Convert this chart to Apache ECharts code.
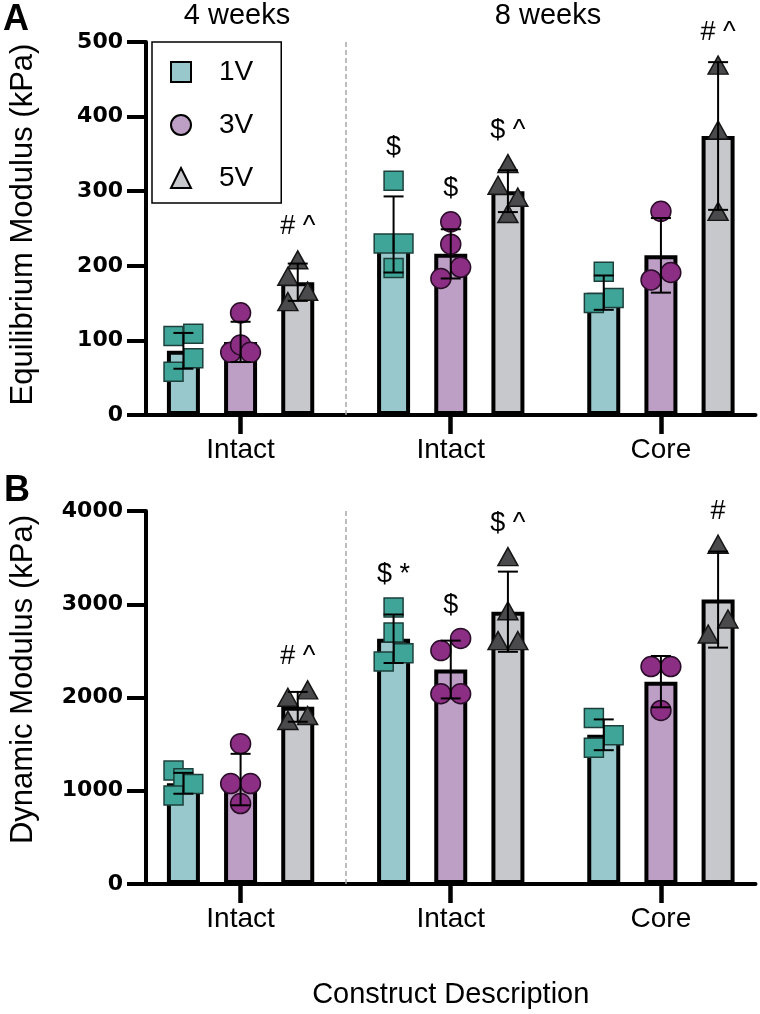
<!DOCTYPE html>
<html><head><meta charset="utf-8">
<script src="https://cdn.jsdelivr.net/npm/echarts@6/dist/echarts.min.js"></script>
<style>html,body{margin:0;padding:0;background:#fff}#c{width:760px;height:1014px}</style>
</head><body><div id="c"></div>
<script>
// ---------- data ----------
const categories = ['Intact', 'Intact', 'Core'];
const groupNames = ['1V', '3V', '5V'];
const weekLabels = ['4 weeks', '8 weeks'];
const panelLetters = ['A', 'B'];

// Panel A: Equilibrium Modulus (kPa), per category [4w Intact, 8w Intact, 8w Core]
const eqMean1V = [86, 242, 164];
const eqMean3V = [98, 216, 214];
const eqMean5V = [178, 300, 374];
const eqSD1V = [24, 51, 23];
const eqSD3V = [27, 33, 50];
const eqSD5V = [25, 28, 99];
const eqPts1V = [[106, 109, 76, 58], [314, 230, 230, 197], [192, 150, 157]];
const eqPts3V = [[137, 84, 94, 84], [259, 229, 198, 183], [273, 181, 191]];
const eqPts5V = [[208, 186, 166, 152], [337, 308, 292, 270], [469, 382, 273]];
// side of the bar each point is spread to (-1 left, 0 centre, 1 right)
const eqSide1V = [[-1, 1, 1, -1], [0, -1, 1, 0], [0, -1, 1]];
const eqSide3V = [[0, -1, 0, 1], [0, 0, 1, -1], [0, -1, 1]];
const eqSide5V = [[0, -1, 1, -1], [0, -1, 1, 0], [0, 0, 0]];
const eqMarks = [['', '', '# ^'], ['$', '$', '$ ^'], ['', '', '# ^']];

// Panel B: Dynamic Modulus (kPa)
const dynMean1V = [1080, 2630, 1600];
const dynMean3V = [1120, 2300, 2170];
const dynMean5V = [1900, 2920, 3050];
const dynSD1V = [112, 260, 165];
const dynSD3V = [276, 310, 275];
const dynSD5V = [160, 430, 515];
const dynPts1V = [[1216, 1134, 1073, 949], [2966, 2698, 2474, 2385], [1779, 1594, 1462]];
const dynPts3V = [[1505, 1077, 1077, 863], [2634, 2503, 2040, 2040], [2332, 2332, 1861]];
const dynPts5V = [[2003, 2082, 1754, 1807], [3511, 2930, 2610, 2610], [3644, 2681, 2842]];
const dynSide1V = [[-1, 0, 1, -1], [0, 0, 1, -1], [-1, 1, -1]];
const dynSide3V = [[0, -1, 1, 0], [1, -1, -1, 1], [-1, 1, 0]];
const dynSide5V = [[-1, 1, -1, 1], [0, 0, -1, 1], [0, -1, 1]];
const dynMarks = [['', '', '# ^'], ['$ *', '$', '$ ^'], ['', '', '#']];

// ---------- styles / layout ----------
const FONT = '"Liberation Sans", Arial, sans-serif';
const GROUP_OFF = [-0.272, 0, 0.272];
const SPREAD = 0.047;
const groupStyle = [
  { symbol: 'rect', size: 19, fill: '#3fa598', border: '#1c3f3b', bar: '#98c8cc' },
  { symbol: 'circle', size: 20, fill: '#8b2e84', border: '#2a0d28', bar: '#bd9ec4' },
  { symbol: 'triangle', size: [20, 18], fill: '#4a4a4c', border: '#161616', bar: '#c7c8cc' }
];

function errorRender(params, api) {
  const x = api.value(0), lo = api.value(1), hi = api.value(2);
  const a = api.coord([x, lo]), b = api.coord([x, hi]);
  const st = { stroke: '#000', lineWidth: 2 };
  const h = 10;
  return { type: 'group', children: [
    { type: 'line', shape: { x1: a[0], y1: a[1], x2: b[0], y2: b[1] }, style: st },
    { type: 'line', shape: { x1: b[0] - h, y1: b[1], x2: b[0] + h, y2: b[1] }, style: st },
    { type: 'line', shape: { x1: a[0] - h, y1: a[1], x2: a[0] + h, y2: a[1] }, style: st }
  ]};
}

function buildPanel(gi, means, sds, pts, sides, marks, suffix) {
  const out = [];
  groupNames.forEach((gName, g) => {
    const s = groupStyle[g];
    const barSeries = {
      type: 'bar', name: gName + suffix, xAxisIndex: gi, yAxisIndex: gi,
      barWidth: 33, barGap: '-100%', z: 2, silent: true,
      itemStyle: { color: s.bar, borderColor: '#000', borderWidth: 4 },
      data: categories.map((c, i) => [i + 1 + GROUP_OFF[g], means[g][i]])
    };
    if (g === 0) {
      barSeries.markLine = {
        silent: true, symbol: 'none', label: { show: false },
        lineStyle: { color: '#a8a8a8', type: [5, 3], width: 1.5 },
        data: [{ xAxis: 1.5 }]
      };
    }
    out.push(barSeries);
    const sc = [];
    pts[g].forEach((arr, i) => arr.forEach((v, k) => {
      sc.push([i + 1 + GROUP_OFF[g] + sides[g][i][k] * SPREAD, v]);
    }));
    out.push({
      type: 'scatter', name: gName + suffix, xAxisIndex: gi, yAxisIndex: gi, z: 3,
      symbol: s.symbol, symbolSize: s.size,
      itemStyle: { color: s.fill, borderColor: s.border, borderWidth: 1.5, opacity: 1 },
      data: sc
    });
    out.push({
      type: 'custom', xAxisIndex: gi, yAxisIndex: gi, z: 4, silent: true,
      renderItem: errorRender,
      data: categories.map((c, i) => [i + 1 + GROUP_OFF[g], means[g][i] - sds[g][i], means[g][i] + sds[g][i]])
    });
    const ann = [];
    categories.forEach((c, i) => {
      const m = marks[i][g];
      if (m) ann.push({ value: [i + 1 + GROUP_OFF[g], Math.max.apply(null, pts[g][i])], name: m });
    });
    if (ann.length) out.push({
      type: 'scatter', xAxisIndex: gi, yAxisIndex: gi, z: 5, silent: true,
      symbolSize: 1, itemStyle: { color: '#fff', opacity: 0 },
      label: { show: true, position: 'top', distance: 19, formatter: p => p.name,
        fontFamily: FONT, fontSize: 27, color: '#000', opacity: 1 },
      data: ann
    });
  });
  return out;
}

const series = [].concat(
  buildPanel(0, [eqMean1V, eqMean3V, eqMean5V], [eqSD1V, eqSD3V, eqSD5V],
    [eqPts1V, eqPts3V, eqPts5V], [eqSide1V, eqSide3V, eqSide5V], eqMarks, ''),
  buildPanel(1, [dynMean1V, dynMean3V, dynMean5V], [dynSD1V, dynSD3V, dynSD5V],
    [dynPts1V, dynPts3V, dynPts5V], [dynSide1V, dynSide3V, dynSide5V], dynMarks, ' B')
);

function xAxisCfg(gi, name) {
  return {
    type: 'value', gridIndex: gi, min: 0.55, max: 3.45,
    name: name || '', nameLocation: 'middle', nameGap: 96,
    nameTextStyle: { fontFamily: FONT, fontSize: 29, color: '#000' },
    axisLine: { onZero: false, lineStyle: { color: '#000', width: 4 } },
    axisTick: { customValues: [1, 2, 3], length: 19, lineStyle: { color: '#000', width: 4.5 } },
    axisLabel: { customValues: [1, 2, 3], margin: 21, fontFamily: FONT, fontSize: 28, color: '#000',
      formatter: v => categories[Math.round(v) - 1] || '' },
    splitLine: { show: false }
  };
}
function yAxisCfg(gi, max, interval, name, shift) {
  return {
    type: 'value', gridIndex: gi, min: 0, max: max, interval: interval,
    name: name, nameLocation: 'middle', nameGap: 107,
    nameTextStyle: { fontFamily: FONT, fontSize: 31, color: '#000', padding: [0, 0, 0, shift] },
    axisLine: { show: true, onZero: false, lineStyle: { color: '#000', width: 4 } },
    axisTick: { show: true, length: 19, lineStyle: { color: '#000', width: 4 } },
    axisLabel: { margin: 23, fontFamily: '"DejaVu Sans", sans-serif', fontWeight: 'bold', fontSize: 22, color: '#000',
      formatter: v => String(v) },
    splitLine: { show: false }
  };
}

const option = {
  animation: false,
  backgroundColor: '#fff',
  grid: [
    { left: 142, right: 4.5, top: 42, height: 373 },
    { left: 142, right: 4.5, top: 511, height: 373 }
  ],
  xAxis: [xAxisCfg(0), xAxisCfg(1, 'Construct Description')],
  yAxis: [
    yAxisCfg(0, 500, 100, 'Equilibrium Modulus (kPa)', 8),
    yAxisCfg(1, 4000, 1000, 'Dynamic Modulus (kPa)', 36)
  ],
  legend: {
    left: 152, top: 42, orient: 'vertical',
    borderColor: '#000', borderWidth: 1.5,
    padding: [16, 28, 11, 18], itemGap: 25, itemWidth: 20, itemHeight: 20,
    selectedMode: false,
    data: [
      { name: '1V', icon: 'rect' },
      { name: '3V', icon: 'circle' },
      { name: '5V', icon: 'triangle' }
    ],
    formatter: n => '{g| }{t|' + n + '}',
    textStyle: { fontFamily: FONT, fontSize: 28, color: '#000',
      rich: { g: { width: 23 }, t: { fontFamily: FONT, fontSize: 28, color: '#000' } } }
  },
  graphic: [
    { type: 'text', x: 237, y: 16, style: { text: weekLabels[0], font: '29px ' + FONT, fill: '#000', align: 'center', verticalAlign: 'middle' } },
    { type: 'text', x: 548, y: 16, style: { text: weekLabels[1], font: '29px ' + FONT, fill: '#000', align: 'center', verticalAlign: 'middle' } },
    { type: 'text', x: 3, y: 20, style: { text: panelLetters[0], font: 'bold 36px ' + FONT, fill: '#000', align: 'left', verticalAlign: 'middle' } },
    { type: 'text', x: 4, y: 491, style: { text: panelLetters[1], font: 'bold 36px ' + FONT, fill: '#000', align: 'left', verticalAlign: 'middle' } }
  ],
  series: series
};
const chart = echarts.init(document.getElementById('c'), null, { renderer: 'canvas' });
chart.setOption(option);
</script>
</body></html>
